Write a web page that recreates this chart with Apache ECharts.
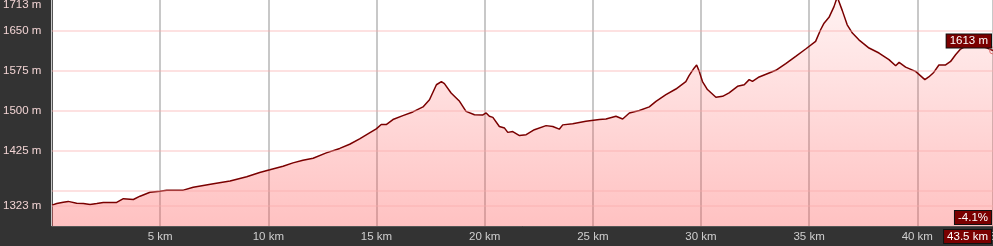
<!DOCTYPE html>
<html>
<head>
<meta charset="utf-8">
<script src="https://cdn.jsdelivr.net/npm/echarts@6/dist/echarts.min.js"></script>
<style>
html,body{margin:0;padding:0;background:#333;}
#c{width:993px;height:246px;}
</style>
</head>
<body>
<div id="c"></div>
<script>
// distance (km)
const distances = [0.0,0.22,0.52,0.75,0.83,1.14,1.45,1.76,2.07,2.37,2.99,3.3,3.76,4.07,4.53,4.99,5.3,6.07,6.53,7.46,8.23,9.0,9.6,10.07,10.68,11.14,11.6,12.07,12.68,13.3,13.76,14.22,14.68,14.99,15.22,15.45,15.76,16.22,16.68,17.15,17.45,17.77,18.0,18.14,18.45,18.84,19.14,19.53,19.92,20.07,20.22,20.38,20.68,20.92,21.07,21.3,21.61,21.92,22.3,22.84,23.15,23.45,23.61,24.07,24.68,25.3,25.61,26.07,26.38,26.69,27.15,27.61,27.92,28.38,28.84,29.3,29.45,29.68,29.8,29.92,30.07,30.3,30.69,31.0,31.3,31.69,32.0,32.23,32.38,32.69,33.15,33.46,33.92,34.38,34.84,35.3,35.53,35.69,35.92,36.15,36.3,36.53,36.76,37.0,37.3,37.77,38.23,38.69,39.0,39.16,39.46,39.92,40.35,40.53,40.76,41.0,41.31,41.54,41.77,42.0,42.4,42.9,43.2,43.5];
// elevation (m)
const elevations = [1324,1327,1329.5,1331,1329.5,1327.6,1327,1325,1327,1329,1329,1336,1334.5,1340.7,1348,1350,1352,1352,1357.5,1364,1369,1377,1385,1390,1396.7,1403,1408,1411.6,1421.6,1430,1437.8,1447.8,1459,1466.5,1474.6,1474.6,1484,1491.3,1498.2,1507.6,1521,1549,1555,1551,1533.6,1518,1499.3,1493,1492.6,1496.3,1490,1488,1471,1468,1460,1461.5,1454,1455.6,1465,1472.6,1471,1466,1474,1476,1480.7,1484,1485,1490,1485,1496.3,1501,1507.7,1518,1530.5,1541,1555,1566,1580,1586,1574,1555,1540,1525.5,1527.4,1533.7,1546,1549,1558.6,1555.4,1563.6,1571,1576,1588.4,1602,1615.8,1630,1651.8,1664,1675,1695,1713,1688,1661,1645.6,1633,1617.6,1608.3,1596,1584.6,1590.8,1582,1574,1558.6,1563.6,1572,1586,1586,1592.5,1605,1615.7,1625,1622,1618,1613];
// y-axis labelled values (m) and gridline values
const yLabelValues = [1323,1425,1500,1575,1650,1713];
const yGridValues = [1323,1350,1425,1500,1575,1650];
const endGrade = '-4.1%';

const pts = distances.map((d,i)=>[d, elevations[i]]);
const lastDist = distances[distances.length-1];
const lastElev = elevations[elevations.length-1];
const maxElev = Math.max(...elevations);
const FONT = 'Liberation Sans, Arial, sans-serif';

const chart = echarts.init(document.getElementById('c'), null, {renderer:'canvas'});
chart.setOption({
  animation:false,
  backgroundColor:'#333',
  grid:{left:52,right:0,top:-3,bottom:20,show:true,backgroundColor:'#fff',borderWidth:0,
    containLabel:false,outerBoundsMode:'none'},
  xAxis:{
    type:'value', min:0, max:lastDist, interval:5,
    axisLine:{show:true,onZero:false,lineStyle:{color:'#555',width:1}},
    axisTick:{show:false},
    splitLine:{show:true,lineStyle:{color:'#c8c8c8',width:2}},
    axisLabel:{color:'#cfcfcf',fontSize:11.5,fontFamily:FONT,margin:5,
      formatter:v=> v===0 ? '' : v+' km'}
  },
  yAxis:{
    type:'value', min:1285, max:maxElev,
    axisLine:{show:true,lineStyle:{color:'#555',width:1}},
    axisTick:{show:false},
    splitLine:{show:false},
    axisLabel:{
      customValues:yLabelValues,
      color:'#f2d4d4',fontSize:11.5,fontFamily:FONT,align:'left',margin:49,
      formatter:v=> v===maxElev ? '{t|'+v+' m}' : v+' m',
      rich:{t:{color:'#f2d4d4',fontSize:11.5,fontFamily:FONT,padding:[16,0,0,0]}}
    }
  },
  series:[{
    type:'line',
    data:pts,
    showSymbol:false,
    smooth:false,
    clip:true,
    lineStyle:{color:'#7a0000',width:1.5},
    areaStyle:{
      origin:'start',
      color:new echarts.graphic.LinearGradient(0,0,0,1,[
        {offset:0,color:'rgba(255,80,80,0.10)'},
        {offset:1,color:'rgba(255,80,80,0.50)'}
      ])
    },
    markLine:{
      silent:true, symbol:['none','none'], label:{show:false},
      lineStyle:{color:'rgba(250,170,170,0.35)',width:2,type:'solid'},
      data:yGridValues.map(v=>({yAxis:v}))
    },
    markPoint:{
      silent:true,
      symbol:'circle', symbolSize:7,
      itemStyle:{color:'rgba(255,255,255,0)',borderColor:'#e07070',borderWidth:1},
      data:[{coord:[lastDist,lastElev],value:lastElev}],
      label:{show:true,position:'left',distance:0,offset:[2,-9.5],
        formatter:p=>p.value+' m',
        color:'#fff',fontSize:11.5,fontFamily:FONT,
        backgroundColor:'#7a0000',borderColor:'#111',borderWidth:1,padding:[1,3,0,3]}
    }
  }],
  graphic:[
    {type:'text',right:1,top:210,z:100,
      style:{text:endGrade,fill:'#fff',font:'11.5px '+FONT,
        backgroundColor:'#7a0000',borderColor:'#111',borderWidth:1,padding:[1,3,0,3]}},
    {type:'text',right:1,top:229,z:100,
      style:{text:lastDist+' km',fill:'#fff',font:'11.5px '+FONT,
        backgroundColor:'#7a0000',borderColor:'#111',borderWidth:1,padding:[1,3,0,3]}}
  ]
});
</script>
</body>
</html>
